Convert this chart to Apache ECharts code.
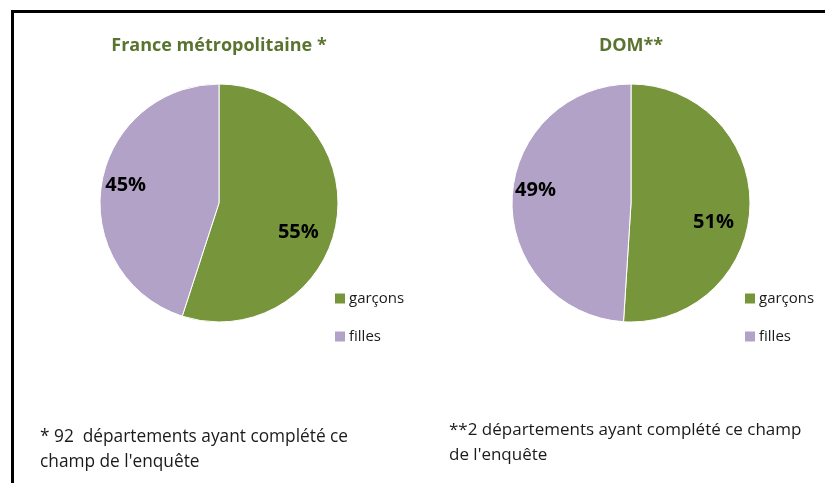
<!DOCTYPE html>
<html>
<head>
<meta charset="utf-8">
<script src="https://cdn.jsdelivr.net/npm/echarts@6/dist/echarts.min.js"></script>
<style>
  html, body { margin: 0; padding: 0; background: #fff; }
  #chart { width: 825px; height: 483px; position: absolute; left: 0; top: 0; }
  .frame { position: absolute; left: 11px; top: 10px; width: 830px; height: 500px;
           border-top: 3px solid #000; border-left: 3px solid #000; }
</style>
</head>
<body>
<div class="frame"></div>
<div id="chart"></div>
<script>
// categories and values
const categories = ['garçons', 'filles'];
const metroValues = [55, 45];
const domValues = [51, 49];
const chartTitles = ['France métropolitaine *', 'DOM**'];
const footnotes = [
  "* 92  départements ayant complété ce\nchamp de l'enquête",
  "**2 départements ayant complété ce champ\nde l'enquête"
];

const colors = ['#77963b', '#b3a2c7'];
const font = '"Open Sans", "Noto Sans", sans-serif';

// pie series: one for the slices, one transparent ring only to place labels
// nudges: small shifts of the labels, like excel's best fit
function pieSeries(values, cx, nudges) {
  return [{
    type: 'pie',
    center: [cx, 203],
    radius: [0, 119],
    startAngle: 90,
    clockwise: true,
    label: { show: false },
    labelLine: { show: false },
    itemStyle: { borderColor: '#fff', borderWidth: 1 },
    data: categories.map((name, i) => ({ name: name, value: values[i] }))
  }, {
    type: 'pie',
    center: [cx, 203],
    radius: [62, 119],
    startAngle: 90,
    clockwise: true,
    silent: true,
    legendHoverLink: false,
    itemStyle: { color: 'transparent', borderWidth: 0 },
    label: {
      show: true,
      position: 'inside',
      formatter: '{c}%',
      color: '#000',
      fontWeight: 'bold',
      fontSize: 20,
      fontFamily: font
    },
    labelLine: { show: false },
    data: categories.map((name, i) => ({
      name: name,
      value: values[i],
      label: { offset: nudges[i] }
    }))
  }];
}

const titleStyle = { color: '#5a7430', fontSize: 18, fontWeight: 'bold', fontFamily: font };
const noteStyle = { color: '#1a1a1a', fontSize: 17.3, fontWeight: 'normal', fontFamily: font, lineHeight: 25 };
const legendText = { color: '#1a1a1a', fontSize: 15, fontFamily: font, padding: [0, 0, 0, -2] };

let option = {
  color: colors,
  animation: false,
  title: [{
    text: chartTitles[0],
    left: 219,
    top: 37,
    padding: 0,
    textAlign: 'center',
    textStyle: titleStyle
  }, {
    text: chartTitles[1],
    left: 631,
    top: 37,
    padding: 0,
    textAlign: 'center',
    textStyle: titleStyle
  }, {
    text: footnotes[0],
    left: 40,
    top: 425,
    padding: 0,
    textStyle: noteStyle
  }, {
    text: footnotes[1],
    left: 449,
    top: 418,
    padding: 0,
    textStyle: Object.assign({}, noteStyle, { fontSize: 17 })
  }],
  legend: [{
    orient: 'vertical',
    left: 333,
    top: 291,
    padding: 0,
    itemWidth: 12,
    itemHeight: 12,
    itemGap: 23,
    icon: 'rect',
    selectedMode: false,
    textStyle: legendText,
    data: categories
  }, {
    orient: 'vertical',
    left: 743,
    top: 291,
    padding: 0,
    itemWidth: 12,
    itemHeight: 12,
    itemGap: 23,
    icon: 'rect',
    selectedMode: false,
    textStyle: legendText,
    data: categories
  }],
  series: pieSeries(metroValues, 219, [[-13, 15], [-1, -3]])
    .concat(pieSeries(domValues, 631, [[-11, 16], [-2, -10]]))
};

let myChart = echarts.init(document.getElementById('chart'));
myChart.setOption(option);
</script>
</body>
</html>
